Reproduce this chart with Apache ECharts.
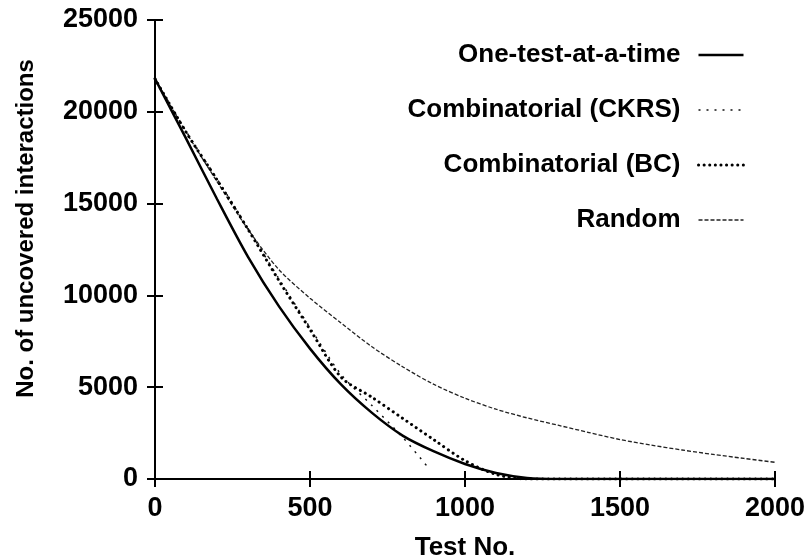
<!DOCTYPE html>
<html>
<head>
<meta charset="utf-8">
<script src="https://cdn.jsdelivr.net/npm/echarts@6/dist/echarts.min.js"></script>
<style>
  html, body { margin: 0; padding: 0; background: #fff; }
  #chart { width: 810px; height: 559px; }
</style>
</head>
<body>
<div id="chart"></div>
<script>
// ---- data ----
const testNo = [0, 100, 200, 300, 400, 500, 600, 700, 800, 900, 1000,
                1100, 1200, 1300, 1400, 1500, 1600, 1700, 1800, 1900, 2000];
const oneTestAtATime = [21800, 18550, 15250, 12100, 9400, 7100, 5150, 3600, 2350, 1500, 820,
                        330, 60, 0, 0, 0, 0, 0, 0, 0, 0];
const combBC = [21800, 18900, 16300, 13600, 10800, 8150, 5550, 4450, 3290, 2130, 1000,
                250, 0, 0, 0, 0, 0, 0, 0, 0, 0];
const randomTests = [21800, 18900, 16200, 13600, 11400, 9850, 8500, 7200, 6100, 5150, 4400,
                     3800, 3330, 2930, 2530, 2150, 1850, 1580, 1340, 1120, 910];
const ckrsTestNo = [0, 100, 200, 300, 400, 500, 600, 700, 800, 880];
const combCKRS = [21800, 18950, 16350, 13650, 10900, 8250, 5700, 4000, 2250, 650];

const seriesNames = ['One-test-at-a-time', 'Combinatorial (CKRS)', 'Combinatorial (BC)', 'Random'];
const xTicks = { min: 0, max: 2000, interval: 500 };
const yTicks = { min: 0, max: 25000, interval: 5000 };

const pairs = (xs, ys) => xs.map((x, i) => [x, ys[i]]);

const FONT = 'Liberation Sans';
const labelStyle = { color: '#000', fontFamily: FONT, fontWeight: 'bold', fontSize: 27, formatter: v => String(v) };
const lineAxis = { show: true, lineStyle: { color: '#000', width: 2 } };
const tickIn = { show: true, inside: true, length: 8, lineStyle: { color: '#000', width: 2 } };

const styles = [
  { color: '#000', width: 2.5, type: 'solid' },
  { color: '#111', width: 1.5, type: [2, 6] },
  { color: '#000', width: 3, type: [0.1, 5.5], cap: 'round' },
  { color: '#222', width: 1.3, type: [4, 2] }
];

const chart = echarts.init(document.getElementById('chart'), null, { renderer: 'canvas' });
chart.setOption({
  animation: false,
  backgroundColor: '#fff',
  grid: { left: 155, right: 35, top: 20, bottom: 80, containLabel: false, outerBoundsMode: 'none' },
  legend: {
    orient: 'vertical',
    right: 60,
    top: 37,
    align: 'right',
    itemWidth: 45,
    itemHeight: 26,
    itemGap: 29,
    data: seriesNames.map((n, i) => ({ name: n, lineStyle: Object.assign({}, styles[i]) })),
    itemStyle: { opacity: 0 },
    textStyle: { color: '#000', fontFamily: FONT, fontWeight: 'bold', fontSize: 26, padding: [0, 13, 0, 0] }
  },
  xAxis: [
    {
      type: 'value', position: 'bottom',
      min: xTicks.min, max: xTicks.max, interval: xTicks.interval,
      name: 'Test No.', nameLocation: 'middle', nameGap: 56,
      nameTextStyle: { color: '#000', fontFamily: FONT, fontWeight: 'bold', fontSize: 26 },
      axisLine: lineAxis, axisTick: tickIn,
      axisLabel: Object.assign({ margin: 16 }, labelStyle),
      splitLine: { show: false }
    },
    {
      type: 'value', position: 'top',
      min: xTicks.min, max: xTicks.max, interval: xTicks.interval,
      axisLine: lineAxis, axisTick: tickIn, axisLabel: { show: false },
      splitLine: { show: false }
    }
  ],
  yAxis: [
    {
      type: 'value', position: 'left',
      min: yTicks.min, max: yTicks.max, interval: yTicks.interval,
      name: 'No. of uncovered interactions', nameLocation: 'middle', nameGap: 117,
      nameTextStyle: { color: '#000', fontFamily: FONT, fontWeight: 'bold', fontSize: 24, padding: [0, 0, 0, 42] },
      axisLine: lineAxis, axisTick: tickIn,
      axisLabel: Object.assign({ margin: 17 }, labelStyle),
      splitLine: { show: false }
    },
    {
      type: 'value', position: 'right',
      min: yTicks.min, max: yTicks.max, interval: yTicks.interval,
      axisLine: lineAxis, axisTick: tickIn, axisLabel: { show: false },
      splitLine: { show: false }
    }
  ],
  series: [
    {
      name: seriesNames[0], type: 'line', symbol: 'none', smooth: 0.3,
      data: pairs(testNo, oneTestAtATime),
      lineStyle: styles[0], itemStyle: { color: styles[0].color }, z: 4
    },
    {
      name: seriesNames[1], type: 'line', symbol: 'none', smooth: 0.3,
      data: pairs(ckrsTestNo, combCKRS),
      lineStyle: styles[1], itemStyle: { color: styles[1].color }, z: 3
    },
    {
      name: seriesNames[2], type: 'line', symbol: 'none', smooth: 0.3,
      data: pairs(testNo, combBC),
      lineStyle: styles[2], itemStyle: { color: styles[2].color }, z: 3
    },
    {
      name: seriesNames[3], type: 'line', symbol: 'none', smooth: 0.3,
      data: pairs(testNo, randomTests),
      lineStyle: styles[3], itemStyle: { color: styles[3].color }, z: 2
    }
  ]
});
</script>
</body>
</html>
